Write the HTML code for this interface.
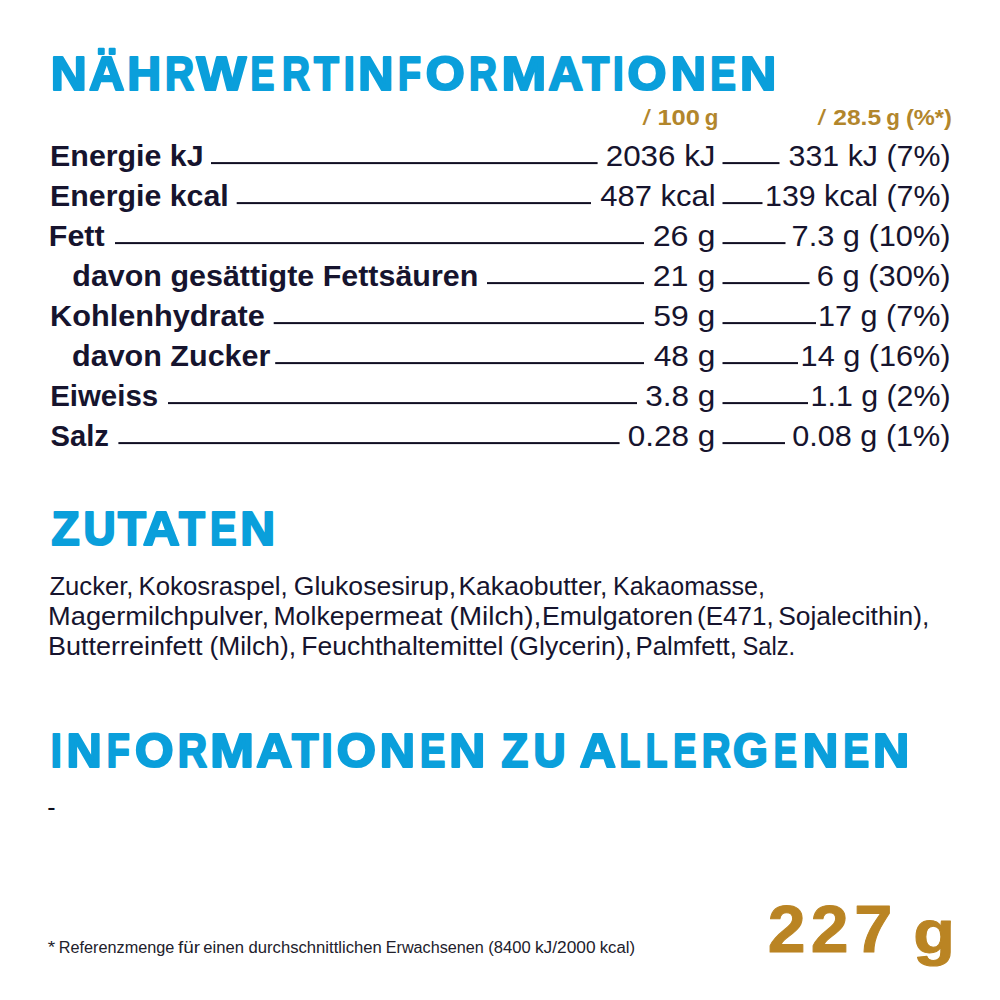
<!DOCTYPE html>
<html lang="de"><head><meta charset="utf-8"><title>Nährwertinformationen</title>
<style>html,body{margin:0;padding:0;background:#fff;width:1000px;height:1000px;overflow:hidden}svg{display:block}text{font-family:'Liberation Sans', sans-serif;white-space:pre}</style>
</head><body>
<svg width="1000" height="1000" viewBox="0 0 1000 1000">
<rect width="1000" height="1000" fill="#fff"/>
<text y="90.10" font-size="47.50" font-weight="bold" fill="#0a9fdb" stroke="#0a9fdb" stroke-width="2.2" stroke-linejoin="round"><tspan x="50.78" textLength="36.00" lengthAdjust="spacingAndGlyphs">N</tspan><tspan x="89.13" textLength="35.50" lengthAdjust="spacingAndGlyphs">Ä</tspan><tspan x="127.17" textLength="33.81" lengthAdjust="spacingAndGlyphs">H</tspan><tspan x="165.08" textLength="29.08" lengthAdjust="spacingAndGlyphs">R</tspan><tspan x="196.60" textLength="49.81" lengthAdjust="spacingAndGlyphs">W</tspan><tspan x="250.47" textLength="23.77" lengthAdjust="spacingAndGlyphs">E</tspan><tspan x="282.08" textLength="27.96" lengthAdjust="spacingAndGlyphs">R</tspan><tspan x="313.90" textLength="24.86" lengthAdjust="spacingAndGlyphs">T</tspan><tspan x="343.82" textLength="11.02" lengthAdjust="spacingAndGlyphs">I</tspan><tspan x="358.25" textLength="35.27" lengthAdjust="spacingAndGlyphs">N</tspan><tspan x="397.95" textLength="22.98" lengthAdjust="spacingAndGlyphs">F</tspan><tspan x="425.73" textLength="38.96" lengthAdjust="spacingAndGlyphs">O</tspan><tspan x="468.88" textLength="27.96" lengthAdjust="spacingAndGlyphs">R</tspan><tspan x="501.54" textLength="44.74" lengthAdjust="spacingAndGlyphs">M</tspan><tspan x="548.15" textLength="34.87" lengthAdjust="spacingAndGlyphs">A</tspan><tspan x="582.50" textLength="26.66" lengthAdjust="spacingAndGlyphs">T</tspan><tspan x="613.10" textLength="10.67" lengthAdjust="spacingAndGlyphs">I</tspan><tspan x="627.53" textLength="38.96" lengthAdjust="spacingAndGlyphs">O</tspan><tspan x="670.85" textLength="35.27" lengthAdjust="spacingAndGlyphs">N</tspan><tspan x="710.30" textLength="25.61" lengthAdjust="spacingAndGlyphs">E</tspan><tspan x="739.96" textLength="36.25" lengthAdjust="spacingAndGlyphs">N</tspan></text>
<text y="545.40" font-size="47.79" font-weight="bold" fill="#0a9fdb" stroke="#0a9fdb" stroke-width="2.2" stroke-linejoin="round"><tspan x="51.38" textLength="28.11" lengthAdjust="spacingAndGlyphs">Z</tspan><tspan x="83.61" textLength="32.12" lengthAdjust="spacingAndGlyphs">U</tspan><tspan x="118.10" textLength="27.87" lengthAdjust="spacingAndGlyphs">T</tspan><tspan x="143.10" textLength="36.76" lengthAdjust="spacingAndGlyphs">A</tspan><tspan x="178.90" textLength="25.86" lengthAdjust="spacingAndGlyphs">T</tspan><tspan x="210.01" textLength="26.54" lengthAdjust="spacingAndGlyphs">E</tspan><tspan x="240.29" textLength="34.79" lengthAdjust="spacingAndGlyphs">N</tspan></text>
<text y="766.90" font-size="47.22" font-weight="bold" fill="#0a9fdb" stroke="#0a9fdb" stroke-width="2.2" stroke-linejoin="round"><tspan x="50.82" textLength="11.02" lengthAdjust="spacingAndGlyphs">I</tspan><tspan x="66.45" textLength="35.27" lengthAdjust="spacingAndGlyphs">N</tspan><tspan x="106.75" textLength="22.98" lengthAdjust="spacingAndGlyphs">F</tspan><tspan x="134.95" textLength="38.53" lengthAdjust="spacingAndGlyphs">O</tspan><tspan x="177.76" textLength="29.31" lengthAdjust="spacingAndGlyphs">R</tspan><tspan x="210.32" textLength="43.69" lengthAdjust="spacingAndGlyphs">M</tspan><tspan x="256.32" textLength="36.13" lengthAdjust="spacingAndGlyphs">A</tspan><tspan x="291.90" textLength="26.46" lengthAdjust="spacingAndGlyphs">T</tspan><tspan x="321.42" textLength="11.02" lengthAdjust="spacingAndGlyphs">I</tspan><tspan x="336.73" textLength="39.18" lengthAdjust="spacingAndGlyphs">O</tspan><tspan x="379.65" textLength="35.27" lengthAdjust="spacingAndGlyphs">N</tspan><tspan x="420.03" textLength="25.27" lengthAdjust="spacingAndGlyphs">E</tspan><tspan x="449.38" textLength="36.00" lengthAdjust="spacingAndGlyphs">N</tspan> <tspan x="501.62" textLength="26.63" lengthAdjust="spacingAndGlyphs">Z</tspan><tspan x="533.41" textLength="32.12" lengthAdjust="spacingAndGlyphs">U</tspan> <tspan x="579.72" textLength="36.13" lengthAdjust="spacingAndGlyphs">A</tspan><tspan x="619.58" textLength="20.70" lengthAdjust="spacingAndGlyphs">L</tspan><tspan x="645.69" textLength="21.62" lengthAdjust="spacingAndGlyphs">L</tspan><tspan x="673.34" textLength="23.07" lengthAdjust="spacingAndGlyphs">E</tspan><tspan x="701.80" textLength="28.86" lengthAdjust="spacingAndGlyphs">R</tspan><tspan x="733.10" textLength="34.85" lengthAdjust="spacingAndGlyphs">G</tspan><tspan x="773.74" textLength="23.07" lengthAdjust="spacingAndGlyphs">E</tspan><tspan x="802.83" textLength="35.52" lengthAdjust="spacingAndGlyphs">N</tspan><tspan x="843.19" textLength="25.73" lengthAdjust="spacingAndGlyphs">E</tspan><tspan x="872.96" textLength="36.25" lengthAdjust="spacingAndGlyphs">N</tspan></text>
<text transform="translate(642.47 125.20) scale(1.3847 1)" font-size="21.90" font-weight="normal" fill="#b2862c">/ </text>
<text transform="translate(657.40 125.20) scale(1.1666 1)" font-size="21.90" font-weight="bold" fill="#b2862c">100 </text>
<text transform="translate(704.78 125.20) scale(1.0202 1)" font-size="21.90" font-weight="bold" fill="#b2862c">g</text>
<text transform="translate(817.42 125.20) scale(1.4208 1)" font-size="21.90" font-weight="normal" fill="#b2862c">/ </text>
<text transform="translate(833.23 125.20) scale(1.1234 1)" font-size="21.90" font-weight="bold" fill="#b2862c">28.5 </text>
<text transform="translate(886.30 125.20) scale(1.0202 1)" font-size="21.90" font-weight="bold" fill="#b2862c">g </text>
<text transform="translate(905.98 125.20) scale(1.0799 1)" font-size="21.90" font-weight="bold" fill="#b2862c">(%*)</text>
<text transform="translate(50.10 166.00) scale(1.0570 1)" font-size="28.73" font-weight="bold" fill="#16142e">Energie kJ</text>
<text transform="translate(605.73 166.00) scale(1.0704 1)" font-size="29.30" font-weight="normal" fill="#16142e">2036 kJ</text>
<text transform="translate(788.55 166.00) scale(1.0365 1)" font-size="29.30" font-weight="normal" fill="#16142e">331 kJ (7%)</text>
<text transform="translate(50.10 206.00) scale(1.0556 1)" font-size="28.73" font-weight="bold" fill="#16142e">Energie kcal</text>
<text transform="translate(600.31 206.00) scale(1.0569 1)" font-size="29.30" font-weight="normal" fill="#16142e">487 kcal</text>
<text transform="translate(765.10 206.00) scale(1.0354 1)" font-size="29.30" font-weight="normal" fill="#16142e">139 kcal (7%)</text>
<text transform="translate(48.85 246.00) scale(1.0597 1)" font-size="28.73" font-weight="bold" fill="#16142e">Fett</text>
<text transform="translate(652.68 246.00) scale(1.1001 1)" font-size="29.30" font-weight="normal" fill="#16142e">26 g</text>
<text transform="translate(791.56 246.00) scale(1.0501 1)" font-size="29.30" font-weight="normal" fill="#16142e">7.3 g (10%)</text>
<text transform="translate(72.30 286.00) scale(1.0602 1)" font-size="28.73" font-weight="bold" fill="#16142e">davon gesättigte Fettsäuren</text>
<text transform="translate(652.68 286.00) scale(1.1001 1)" font-size="29.30" font-weight="normal" fill="#16142e">21 g</text>
<text transform="translate(816.80 286.00) scale(1.0533 1)" font-size="29.30" font-weight="normal" fill="#16142e">6 g (30%)</text>
<text transform="translate(50.08 326.00) scale(1.0674 1)" font-size="28.73" font-weight="bold" fill="#16142e">Kohlenhydrate</text>
<text transform="translate(653.19 326.00) scale(1.0908 1)" font-size="29.30" font-weight="normal" fill="#16142e">59 g</text>
<text transform="translate(818.09 326.00) scale(1.0431 1)" font-size="29.30" font-weight="normal" fill="#16142e">17 g (7%)</text>
<text transform="translate(72.05 366.00) scale(1.0626 1)" font-size="28.73" font-weight="bold" fill="#16142e">davon Zucker</text>
<text transform="translate(653.70 366.00) scale(1.0818 1)" font-size="29.30" font-weight="normal" fill="#16142e">48 g</text>
<text transform="translate(800.58 366.00) scale(1.0467 1)" font-size="29.30" font-weight="normal" fill="#16142e">14 g (16%)</text>
<text transform="translate(50.16 406.00) scale(1.0249 1)" font-size="28.73" font-weight="bold" fill="#16142e">Eiweiss</text>
<text transform="translate(645.21 406.00) scale(1.0768 1)" font-size="29.30" font-weight="normal" fill="#16142e">3.8 g</text>
<text transform="translate(810.60 406.00) scale(1.0356 1)" font-size="29.30" font-weight="normal" fill="#16142e">1.1 g (2%)</text>
<text transform="translate(50.53 446.00) scale(1.0157 1)" font-size="28.73" font-weight="bold" fill="#16142e">Salz</text>
<text transform="translate(627.81 446.00) scale(1.0749 1)" font-size="29.30" font-weight="normal" fill="#16142e">0.28 g</text>
<text transform="translate(792.29 446.00) scale(1.0452 1)" font-size="29.30" font-weight="normal" fill="#16142e">0.08 g (1%)</text>
<text transform="translate(49.40 594.90) scale(1.0250 1)" font-size="25.03" font-weight="normal" fill="#16142e">Zucker, </text>
<text transform="translate(138.58 594.90) scale(1.0307 1)" font-size="25.03" font-weight="normal" fill="#16142e">Kokosraspel, </text>
<text transform="translate(293.75 594.90) scale(1.0617 1)" font-size="25.03" font-weight="normal" fill="#16142e">Glukosesirup, </text>
<text transform="translate(458.42 594.90) scale(1.0605 1)" font-size="25.03" font-weight="normal" fill="#16142e">Kakaobutter, </text>
<text transform="translate(613.04 594.90) scale(1.0019 1)" font-size="25.03" font-weight="normal" fill="#16142e">Kakaomasse,</text>
<text transform="translate(48.07 624.90) scale(1.0884 1)" font-size="25.03" font-weight="normal" fill="#16142e">Magermilchpulver, </text>
<text transform="translate(273.41 624.90) scale(1.0656 1)" font-size="25.03" font-weight="normal" fill="#16142e">Molkepermeat </text>
<text transform="translate(449.42 624.90) scale(1.1206 1)" font-size="25.03" font-weight="normal" fill="#16142e">(Milch), </text>
<text transform="translate(541.91 624.90) scale(1.0663 1)" font-size="25.03" font-weight="normal" fill="#16142e">Emulgatoren </text>
<text transform="translate(697.02 624.90) scale(1.0397 1)" font-size="25.03" font-weight="normal" fill="#16142e">(E471, </text>
<text transform="translate(778.16 624.90) scale(1.0552 1)" font-size="25.03" font-weight="normal" fill="#16142e">Sojalecithin),</text>
<text transform="translate(48.09 654.90) scale(1.0783 1)" font-size="25.03" font-weight="normal" fill="#16142e">Butterreinfett </text>
<text transform="translate(209.46 654.90) scale(1.0559 1)" font-size="25.03" font-weight="normal" fill="#16142e">(Milch), </text>
<text transform="translate(301.17 654.90) scale(1.0615 1)" font-size="25.03" font-weight="normal" fill="#16142e">Feuchthaltemittel </text>
<text transform="translate(509.50 654.90) scale(1.0611 1)" font-size="25.03" font-weight="normal" fill="#16142e">(Glycerin), </text>
<text transform="translate(635.49 654.90) scale(1.0270 1)" font-size="25.03" font-weight="normal" fill="#16142e">Palmfett, </text>
<text transform="translate(742.51 654.90) scale(0.9458 1)" font-size="25.03" font-weight="normal" fill="#16142e">Salz.</text>
<text transform="translate(47.86 952.50) scale(1.2175 1)" font-size="15.64" font-weight="normal" fill="#22212b">* </text>
<text transform="translate(58.73 952.50) scale(1.0397 1)" font-size="15.64" font-weight="normal" fill="#22212b">Referenzmenge </text>
<text transform="translate(178.00 952.50) scale(1.2101 1)" font-size="15.64" font-weight="normal" fill="#22212b">für </text>
<text transform="translate(203.27 952.50) scale(1.0622 1)" font-size="15.64" font-weight="normal" fill="#22212b">einen </text>
<text transform="translate(248.48 952.50) scale(1.0657 1)" font-size="15.64" font-weight="normal" fill="#22212b">durchschnittlichen </text>
<text transform="translate(385.73 952.50) scale(1.0357 1)" font-size="15.64" font-weight="normal" fill="#22212b">Erwachsenen </text>
<text transform="translate(488.22 952.50) scale(1.0610 1)" font-size="15.64" font-weight="normal" fill="#22212b">(8400 </text>
<text transform="translate(534.92 952.50) scale(1.1082 1)" font-size="15.64" font-weight="normal" fill="#22212b">kJ/2000 </text>
<text transform="translate(599.74 952.50) scale(1.0701 1)" font-size="15.64" font-weight="normal" fill="#22212b">kcal)</text>
<text transform="translate(47.29 816.20) scale(0.9957 1)" font-size="25.03" font-weight="normal" fill="#0e0d1c">-</text>
<text y="951.90" font-size="66.56" font-weight="bold" fill="#ba8423" stroke="#ba8423" stroke-width="1.0" stroke-linejoin="round"><tspan x="767.88" textLength="37.82" lengthAdjust="spacingAndGlyphs">2</tspan><tspan x="810.88" textLength="37.82" lengthAdjust="spacingAndGlyphs">2</tspan><tspan x="854.36" textLength="38.12" lengthAdjust="spacingAndGlyphs">7</tspan> <tspan x="913.37" y="952.90" font-size="61.90" textLength="41.70" lengthAdjust="spacingAndGlyphs">g</tspan></text>
<rect class="ln" x="211.0" y="162.1" width="386.6" height="2" fill="#100e22"/>
<rect class="ln" x="722.5" y="162.1" width="57.0" height="2" fill="#100e22"/>
<rect class="ln" x="236.7" y="202.1" width="354.3" height="2" fill="#100e22"/>
<rect class="ln" x="722.5" y="202.1" width="40.0" height="2" fill="#100e22"/>
<rect class="ln" x="115.0" y="242.1" width="529.0" height="2" fill="#100e22"/>
<rect class="ln" x="722.5" y="242.1" width="63.0" height="2" fill="#100e22"/>
<rect class="ln" x="487.0" y="282.1" width="157.0" height="2" fill="#100e22"/>
<rect class="ln" x="722.5" y="282.1" width="87.0" height="2" fill="#100e22"/>
<rect class="ln" x="273.7" y="322.1" width="370.3" height="2" fill="#100e22"/>
<rect class="ln" x="722.5" y="322.1" width="93.5" height="2" fill="#100e22"/>
<rect class="ln" x="275.2" y="362.1" width="368.8" height="2" fill="#100e22"/>
<rect class="ln" x="722.5" y="362.1" width="75.5" height="2" fill="#100e22"/>
<rect class="ln" x="168.0" y="402.1" width="469.0" height="2" fill="#100e22"/>
<rect class="ln" x="722.5" y="402.1" width="85.5" height="2" fill="#100e22"/>
<rect class="ln" x="118.4" y="442.1" width="501.2" height="2" fill="#100e22"/>
<rect class="ln" x="722.5" y="442.1" width="62.5" height="2" fill="#100e22"/>
</svg>
</body></html>
